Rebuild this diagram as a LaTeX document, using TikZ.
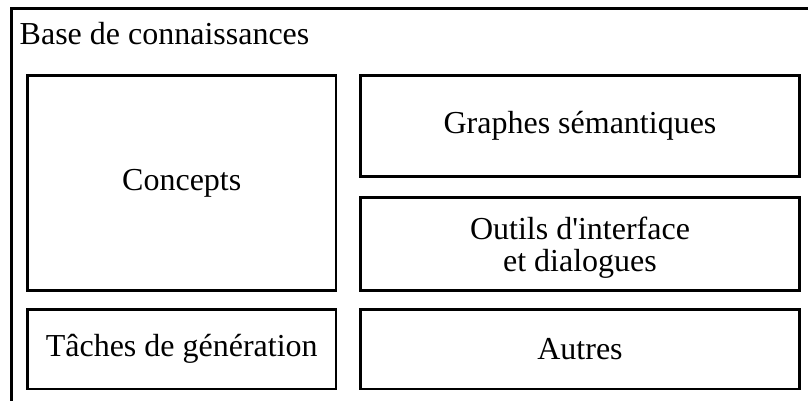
\documentclass[tikz,border=0pt]{standalone}
\usepackage{fontspec}
\setmainfont{Liberation Serif}[Ligatures=TeXOff]
\begin{document}
\begin{tikzpicture}[x=1pt,y=-1pt,
  frameline/.style={line width=2.8pt, line cap=rect},
  box/.style={draw, line width=2.6pt, rectangle, inner sep=0pt, align=center,
    font=\fontsize{32}{32}\selectfont},
  titlestyle/.style={inner sep=0pt, anchor=base west, font=\fontsize{32}{32}\selectfont}]
\useasboundingbox (0,0) rectangle (808,401);
\coordinate (fb) at (11.5,405);
\coordinate (fc) at (11.5,8.5);
\coordinate (fr) at (812,8.5);
\draw[frameline] (fb) -- (fc) -- (fr);
\node[titlestyle] (title) at (19.5,45) {Base de connaissances};
\node[box, minimum width=308.5pt, minimum height=215pt] (concepts) at (181.75,183) {Concepts};
\node[box, minimum width=439pt, minimum height=101pt] (graphes) at (580,126) {Graphes sémantiques};
\node[box, minimum width=439pt, minimum height=93pt, text height=60.9pt, text depth=6.9pt] (outils) at (580,244) {Outils d'interface\\et dialogues};
\node[box, minimum width=308.5pt, minimum height=79.5pt] (taches) at (181.75,349.25) {Tâches de génération};
\node[box, minimum width=439pt, minimum height=79.5pt] (autres) at (580,349.25) {Autres};
\end{tikzpicture}
\end{document}
